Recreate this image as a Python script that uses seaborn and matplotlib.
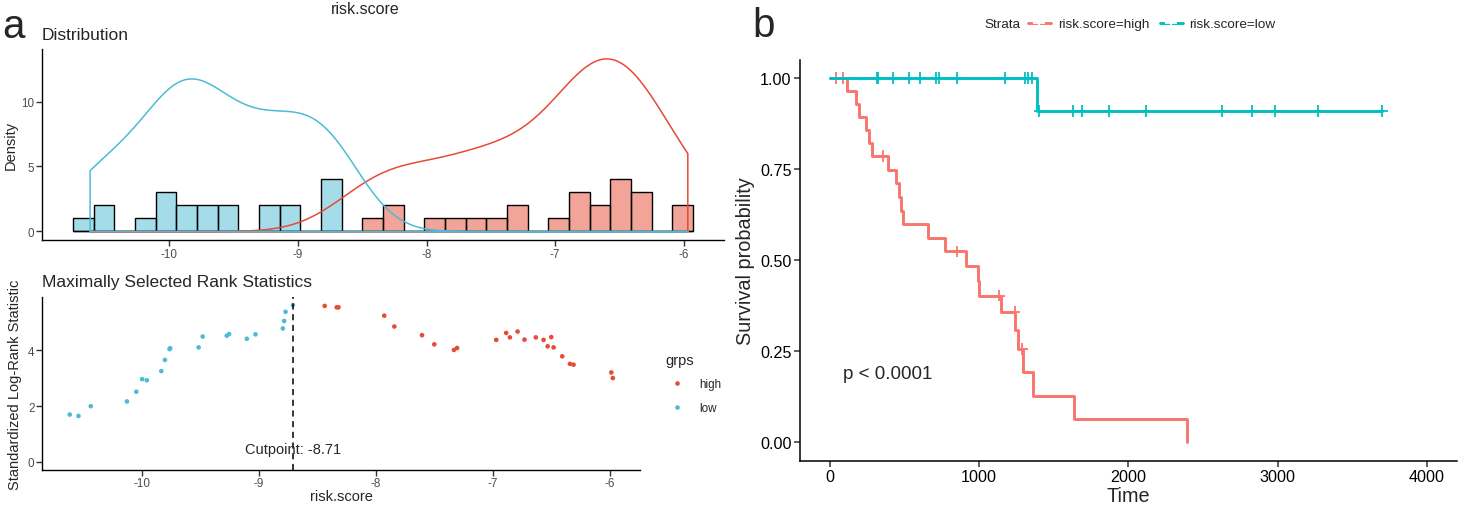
import numpy as np
import pandas as pd
import matplotlib
matplotlib.use("Agg")
import matplotlib.pyplot as plt
import seaborn as sns

# risk scores (x of each point) and standardized log-rank statistic, by group
low_scores = [-10.62, -10.545, -10.44, -10.13, -10.05, -10.00, -9.96, -9.836, -9.805,
              -9.766, -9.76, -9.517, -9.482, -9.276, -9.256, -9.104, -9.03, -8.796,
              -8.785, -8.773, -8.71]
low_stats = [1.70, 1.65, 2.00, 2.17, 2.52, 2.97, 2.93, 3.26, 3.66, 4.05, 4.08, 4.11,
             4.50, 4.53, 4.59, 4.42, 4.58, 4.79, 5.06, 5.39, 5.63]
high_scores = [-8.438, -8.335, -8.32, -7.928, -7.842, -7.605, -7.50, -7.332, -7.305,
               -6.97, -6.885, -6.853, -6.787, -6.728, -6.631, -6.565, -6.53, -6.499,
               -6.479, -6.405, -6.339, -6.308, -5.985, -5.972]
high_stats = [5.60, 5.55, 5.55, 5.25, 4.86, 4.55, 4.22, 4.02, 4.09, 4.38, 4.63, 4.47,
              4.68, 4.39, 4.47, 4.38, 4.15, 4.48, 4.11, 3.79, 3.52, 3.49, 3.21, 3.01]
cutpoint = -8.71

# Kaplan-Meier steps
high_time = [0, 118, 178, 196, 243, 263, 283, 390, 446, 462, 475, 493, 658, 769,
             910, 990, 998, 1148, 1240, 1262, 1296, 1362, 1634, 2395]
high_surv = [1.0, 0.964, 0.929, 0.893, 0.857, 0.821, 0.786, 0.748, 0.711, 0.673,
             0.636, 0.599, 0.561, 0.524, 0.484, 0.443, 0.403, 0.358, 0.307, 0.256,
             0.192, 0.128, 0.064, 0.0]
high_cens_time = [40, 85, 359, 854, 1133, 1237, 1290]
high_cens_surv = [1.0, 1.0, 0.786, 0.524, 0.403, 0.358, 0.256]
low_time = [0, 1389, 3700]
low_surv = [1.0, 0.909, 0.909]
low_cens_time = [316, 324, 423, 530, 606, 710, 730, 851, 1170, 1308, 1330, 1356,
                 1403, 1629, 1688, 1871, 2116, 2624, 2829, 2981, 3269, 3700]
low_cens_surv = [1.0] * 12 + [0.909] * 10

RED, BLUE = "#E64B35", "#4DBBD5"
KM_RED, KM_TEAL = "#F8766D", "#00BFC4"
GREY = "#4D4D4D"

sns.set_theme(style="ticks")
plt.rcParams["font.family"] = ["Liberation Sans", "DejaVu Sans"]
plt.rcParams["axes.unicode_minus"] = False

dist = pd.DataFrame({
    "risk.score": low_scores + high_scores,
    "stat": low_stats + high_stats,
    "grps": ["low"] * len(low_scores) + ["high"] * len(high_scores),
})
pal = {"high": RED, "low": BLUE}


def nrd0(kde):
    # R's default bandwidth, as a factor of the sample sd
    x = kde.dataset[0]
    sd = x.std(ddof=1)
    q75, q25 = np.percentile(x, [75, 25])
    return 0.9 * min(sd, (q75 - q25) / 1.34) * len(x) ** -0.2 / sd


def style_axis(ax, lw=1.0, label_color=GREY, size=8.4, pad=2):
    sns.despine(ax=ax)
    for s in ("left", "bottom"):
        ax.spines[s].set_linewidth(lw)
        ax.spines[s].set_color("black")
    ax.tick_params(length=4, width=lw, color="#333333", labelcolor=label_color,
                   labelsize=size, pad=pad)
    ax.grid(False)


fig = plt.figure(figsize=(14.59, 5.06), dpi=100)

# ---- a, top: distribution
ax1 = fig.add_axes([0.0288, 0.5243, 0.4674, 0.3769])
sns.histplot(dist, x="risk.score", hue="grps", hue_order=["high", "low"], palette=pal,
             bins=30, binrange=(-10.749, -5.928), alpha=0.5, edgecolor="black",
             linewidth=1.0, legend=False, ax=ax1)
ylo, yhi = -0.67, 14.1
ax1.set_ylim(ylo, yhi)
ax1b = ax1.twinx()
sns.kdeplot(dist, x="risk.score", hue="grps", hue_order=["low", "high"], palette=pal,
            common_norm=True, common_grid=True, cut=0, bw_method=nrd0, fill=True,
            alpha=0, linewidth=1.1, legend=False, ax=ax1b)
ax1b.set_ylim(ylo / len(dist), yhi / len(dist))
ax1b.set_axis_off()
ax1.set_xlim(-10.99, -5.687)
ax1.set_xticks([-10, -9, -8, -7, -6])
ax1.set_yticks([0, 5, 10])
style_axis(ax1)
ax1.set_xlabel("")
ax1.set_ylabel("Density", fontsize=10.5)
ax1.yaxis.set_label_coords(-0.036, 0.5)
ax1.set_title("Distribution", loc="left", fontsize=12.5, pad=7)

# ---- a, bottom: maximally selected rank statistics
ax2 = fig.add_axes([0.0288, 0.0698, 0.4099, 0.3407])
sns.scatterplot(dist, x="risk.score", y="stat", hue="grps", hue_order=["high", "low"],
                palette=pal, s=11, edgecolor="none", ax=ax2)
ax2.axvline(cutpoint, color="black", lw=1.1, ls=(0, (4, 3)))
ax2.text(cutpoint, 0.45, f"Cutpoint: {cutpoint}", ha="center", va="center",
         fontsize=10.5)
ax2.set_xlim(-10.857, -5.739)
ax2.set_ylim(-0.28, 5.91)
ax2.set_xticks([-10, -9, -8, -7, -6])
ax2.set_yticks([0, 2, 4])
style_axis(ax2, pad=1.5)
ax2.set_xlabel("risk.score", fontsize=10.5)
ax2.xaxis.set_label_coords(0.5, -0.112)
ax2.set_ylabel("Standardized Log-Rank Statistic", fontsize=10.5)
ax2.yaxis.set_label_coords(-0.034, 0.5)
ax2.set_title("Maximally Selected Rank Statistics", loc="left", fontsize=12.5, pad=8)
leg = ax2.legend(title="grps", frameon=False, loc="upper left",
                 bbox_to_anchor=(1.025, 0.74), fontsize=8.4, title_fontsize=10.5,
                 markerscale=1.0, handletextpad=0.9, labelspacing=1.0,
                 alignment="left")

# ---- b: Kaplan-Meier curves
km = pd.DataFrame({
    "time": high_time + low_time,
    "surv": high_surv + low_surv,
    "strata": ["risk.score=high"] * len(high_time) + ["risk.score=low"] * len(low_time),
})
cens = pd.DataFrame({
    "time": high_cens_time + low_cens_time,
    "surv": high_cens_surv + low_cens_surv,
    "strata": ["risk.score=high"] * len(high_cens_time)
    + ["risk.score=low"] * len(low_cens_time),
})
km_pal = {"risk.score=high": KM_RED, "risk.score=low": KM_TEAL}

ax3 = fig.add_axes([0.5483, 0.0879, 0.4503, 0.7919])
sns.lineplot(km, x="time", y="surv", hue="strata", palette=km_pal, drawstyle="steps-post",
             linewidth=2.1, estimator=None, ax=ax3)
sns.scatterplot(cens, x="time", y="surv", hue="strata", palette=km_pal, marker="+",
                s=70, linewidth=1.3, legend=False, ax=ax3)
ax3.set_xlim(-200, 4200)
ax3.set_ylim(-0.05, 1.05)
ax3.set_xticks([0, 1000, 2000, 3000, 4000])
ax3.set_yticks([0, 0.25, 0.5, 0.75, 1.0])
ax3.set_yticklabels(["0.00", "0.25", "0.50", "0.75", "1.00"])
style_axis(ax3, lw=1.1, label_color="black", size=11.6)
ax3.set_xlabel("Time", fontsize=14.3)
ax3.xaxis.set_label_coords(0.5, -0.064)
ax3.set_ylabel("Survival probability", fontsize=14.3)
ax3.yaxis.set_label_coords(-0.068, 0.5)
ax3.text(87, 0.19, "p < 0.0001", va="center", ha="left", fontsize=13.5)

handles, labels = ax3.get_legend_handles_labels()
ax3.get_legend().remove()
for h in handles:
    h.set_marker("+")
    h.set_markersize(9)
    h.set_markeredgewidth(1.3)
fig.legend(handles, labels, ncol=2, loc="center left",
           bbox_to_anchor=(1028 / 1459, 1 - 25 / 506), frameon=False, fontsize=9.7,
           handlelength=1.7, handletextpad=0.5, columnspacing=0.8, borderpad=0,
           borderaxespad=0)
fig.text(984 / 1459, 1 - 25 / 506, "Strata", va="center", ha="left", fontsize=9.7)

# panel letters and shared title
fig.text(2 / 1459, 1 - 38 / 506, "a", fontsize=29, va="baseline")
fig.text(752 / 1459, 1 - 37 / 506, "b", fontsize=29, va="baseline")
fig.text(365 / 1459, 1 - 10 / 506, "risk.score", ha="center", va="center", fontsize=11.5)

fig.savefig("out.png", dpi=100)
